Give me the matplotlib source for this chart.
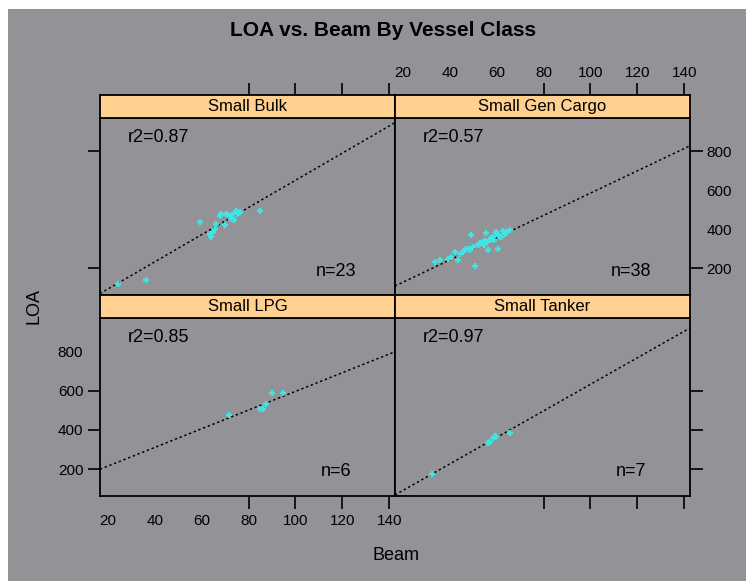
import matplotlib
matplotlib.use('Agg')
import matplotlib.pyplot as plt
from matplotlib.patches import Rectangle
import numpy as np

plt.rcParams['font.family'] = ['Liberation Sans', 'DejaVu Sans']

# ---------------- data ----------------
panel_names = ['Small Bulk', 'Small Gen Cargo', 'Small LPG', 'Small Tanker']

bulk_beam = [24.4, 36.2, 59.1, 64.1, 66.3, 64.8, 68.4, 69.8, 71.9, 74.8, 74.0, 75.9, 85.0,
             70.5, 73.0, 75.0, 68.0, 72.5, 65.5, 74.5, 76.5, 71.0, 63.5]
bulk_loa = [122, 142, 437, 360, 429, 386, 477, 420, 468, 489, 446, 484, 494,
            478, 472, 480, 470, 455, 400, 495, 490, 480, 375]

gen_beam = [33.6, 35.7, 39.3, 42.1, 44.3, 43.5, 49.2, 50.6, 48.5, 52.0, 54.2, 55.6, 56.3,
            57.0, 59.9, 60.6, 62.0, 63.4, 65.5, 58.5, 47.1, 45.5, 53.0, 55.0, 58.0, 61.0,
            64.0, 50.0, 46.0, 52.5, 57.5, 60.0, 62.5, 40.5, 54.5, 59.0, 48.0, 56.0]
gen_loa = [232, 241, 250, 284, 275, 241, 369, 215, 292, 318, 335, 381, 292,
           344, 386, 301, 360, 378, 395, 360, 301, 285, 330, 340, 350, 365,
           385, 310, 290, 325, 355, 375, 390, 260, 320, 345, 300, 335]

lpg_beam = [71.6, 84.7, 86.1, 87.5, 90.1, 94.9]
lpg_loa = [475, 508, 508, 533, 586, 586]

tanker_beam = [32.2, 56.3, 59.1, 58.4, 65.8, 59.5, 57.0]
tanker_loa = [175, 333, 370, 358, 383, 365, 340]

beams = [bulk_beam, gen_beam, lpg_beam, tanker_beam]
loas = [bulk_loa, gen_loa, lpg_loa, tanker_loa]

fit_intercept = [-44.0, 15.4, 121.4, -42.7]
fit_slope = [6.95, 5.70, 4.75, 6.75]
r2_values = ['0.87', '0.57', '0.85', '0.97']
n_values = [23, 38, 6, 7]

x_tick_values = [20, 40, 60, 80, 100, 120, 140]
y_tick_values = [200, 400, 600, 800]

title = 'LOA vs. Beam By Vessel Class'
xlabel = 'Beam'
ylabel = 'LOA'

# ---------------- styling ----------------
W, H = 746, 581
gray = '#939397'
strip_col = '#ffd090'
pt_col = '#40e4e4'

fig = plt.figure(figsize=(W / 100, H / 100), dpi=100)
fig.patch.set_facecolor('white')
fig.patches.append(Rectangle((8 / W, 0), 1 - 8 / W, 1 - 9 / H, transform=fig.transFigure,
                             facecolor=gray, edgecolor='none', zorder=-10))


def rect(x0, x1, y0, y1):
    return [x0 / W, 1 - y1 / H, (x1 - x0) / W, (y1 - y0) / H]


plot_rects = [rect(100, 395, 118, 295), rect(395, 690, 118, 295),
              rect(100, 395, 318, 496), rect(395, 690, 318, 496)]
strip_rects = [rect(100, 395, 95, 118), rect(395, 690, 95, 118),
               rect(100, 395, 295, 318), rect(395, 690, 295, 318)]

# per panel: x side, show x labels, minor x ticks, y side, show y labels, minor y ticks
tick_cfg = [
    ('top', False, [80, 100, 120, 140], 'left', False, [200, 800]),
    ('top', True, [80, 100, 120, 140], 'right', True, [200, 800]),
    ('bottom', True, [80, 100, 120, 140], 'left', True, [200, 400, 600]),
    ('bottom', False, [80, 100, 120, 140], 'right', False, [200, 400, 600]),
]

xlim = (16.6, 142.5)
ylim = (64, 970)


def style_spines(a):
    for s in a.spines.values():
        s.set_linewidth(1.3)
        s.set_color('black')


for i in range(4):
    ax = fig.add_axes(plot_rects[i])
    ax.set_facecolor(gray)
    ax.set_xlim(*xlim)
    ax.set_ylim(*ylim)
    style_spines(ax)

    xs = np.array(xlim)
    ax.plot(xs, fit_intercept[i] + fit_slope[i] * xs, color='black', lw=1.1,
            linestyle=(0, (1.5, 1.8)), zorder=2)
    ax.plot(beams[i], loas[i], linestyle='none', marker='+', ms=5, mew=1.7,
            color=pt_col, zorder=3)

    ax.text(0.095, 0.89, 'r2=' + r2_values[i], transform=ax.transAxes,
            ha='left', va='center', fontsize=13, color='black')
    ax.text(0.80, 0.135, 'n=%d' % n_values[i], transform=ax.transAxes,
            ha='center', va='center', fontsize=13, color='black')

    sax = fig.add_axes(strip_rects[i])
    sax.set_facecolor(strip_col)
    sax.set_xlim(*xlim)
    sax.set_yticks([])
    style_spines(sax)
    sax.text(0.5, 0.5, panel_names[i], transform=sax.transAxes, ha='center',
             va='center', fontsize=12, color='black')

    xside, xlab, xminor, yside, ylab, yminor = tick_cfg[i]

    # x ticks: on the strip (top row, above strip) or on the plot (bottom row)
    xax = sax if xside == 'top' else ax
    other = ax if xside == 'top' else sax
    other.set_xticks([])
    xax.xaxis.remove_overlapping_locs = False
    xax.set_xticks(x_tick_values)
    xax.set_xticks(xminor, minor=True)
    xpad = 11 if xside == 'top' else 13
    xax.tick_params(axis='x', which='major', length=0, pad=xpad, labelsize=11,
                    bottom=False, top=False,
                    labelbottom=(xlab and xside == 'bottom'),
                    labeltop=(xlab and xside == 'top'))
    xax.tick_params(axis='x', which='minor', length=9, width=1.2, direction='out',
                    bottom=(xside == 'bottom'), top=(xside == 'top'))

    ax.yaxis.remove_overlapping_locs = False
    ax.set_yticks(y_tick_values)
    ax.set_yticks(yminor, minor=True)
    ax.tick_params(axis='y', which='major', length=0, pad=12, labelsize=11,
                   left=False, right=False,
                   labelleft=(ylab and yside == 'left'),
                   labelright=(ylab and yside == 'right'))
    ax.tick_params(axis='y', which='minor', length=9, width=1.2, direction='out',
                   left=(yside == 'left'), right=(yside == 'right'))

fig.text(383 / W, 1 - 30 / H, title, ha='center', va='center', fontsize=15,
         fontweight='bold', color='black')
fig.text(396 / W, 1 - 555 / H, xlabel, ha='center', va='center', fontsize=13, color='black')
fig.text(34 / W, 1 - 306 / H, ylabel, ha='center', va='center', rotation=90,
         fontsize=13, color='black')

fig.savefig('out.png', dpi=100, facecolor=fig.get_facecolor())
